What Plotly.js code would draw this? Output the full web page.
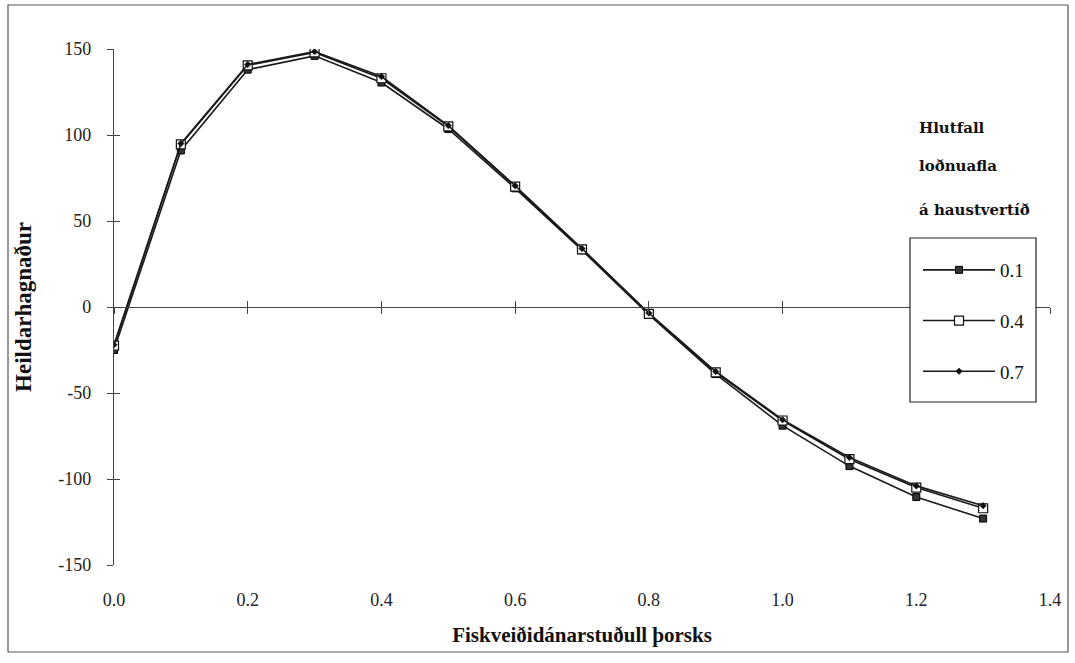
<!DOCTYPE html>
<html>
<head>
<meta charset="utf-8">
<script src="https://cdn.plot.ly/plotly-3.0.1.min.js"></script>
<style>
html,body{margin:0;padding:0;background:#fff;}
#chart{width:1075px;height:663px;}
</style>
</head>
<body>
<div id="chart"></div>
<script>
// Data
const fishingMortality = [0.0, 0.1, 0.2, 0.3, 0.4, 0.5, 0.6, 0.7, 0.8, 0.9, 1.0, 1.1, 1.2, 1.3];
const profit01 = [-25, 91, 138, 146, 130.5, 103.5, 69, 33, -4.5, -39, -69, -92.5, -110.5, -123];
const profit04 = [-22.5, 94.5, 140.5, 148, 133, 105, 70, 33.5, -4, -38, -66, -88.5, -105, -117];
const profit07 = [-22, 95, 141, 148.5, 134, 105.5, 70.5, 34, -3.5, -37.5, -65.5, -87.5, -104, -115.5];
const seriesNames = ['0.1', '0.4', '0.7'];
const xTicks = [0, 0.2, 0.4, 0.6, 0.8, 1.0, 1.2, 1.4];
const yTicks = [-150, -100, -50, 0, 50, 100, 150];
const yTickText = ['-150', '-100', '-50', '0', '50', '100', '150'];
const legendTitleLines = ['Hlutfall', 'loðnuafla', 'á haustvertíð'];

const lineStyle = {color: '#1a1a1a', width: 1.6};
const serif = 'Liberation Serif, Times New Roman, serif';

const traces = [
  {x: fishingMortality, y: profit01, name: seriesNames[0], mode: 'lines+markers', line: lineStyle,
   marker: {symbol: 'square', size: 7, color: '#333', line: {color: '#000', width: 1}}, legendgroup: 'a'},
  {x: fishingMortality, y: profit04, name: seriesNames[1], mode: 'lines+markers', line: lineStyle,
   marker: {symbol: 'square', size: 9, color: '#fff', line: {color: '#111', width: 1.2}}, legendgroup: 'b'},
  {x: fishingMortality, y: profit07, name: seriesNames[2], mode: 'lines+markers', line: lineStyle,
   marker: {symbol: 'diamond', size: 5, color: '#111', line: {color: '#000', width: 0.5}}, legendgroup: 'c'},
  // empty helper traces so the overlay axes exist
  {x: [], y: [], xaxis: 'x2', yaxis: 'y', showlegend: false, hoverinfo: 'skip'},
  {x: [], y: [], xaxis: 'x3', yaxis: 'y', showlegend: false, hoverinfo: 'skip'},
  {x: [], y: [], xaxis: 'x', yaxis: 'y2', showlegend: false, hoverinfo: 'skip'}
];

const L = 114, R = 25, T = 49, B = 98;
const W = 1075 - L - R, H = 663 - T - B;
const px = v => (v - L) / W;
const py = v => (663 - B - v) / H;

const annotations = legendTitleLines.map((t, i) => ({
  text: '<b>' + t + '</b>', xref: 'paper', yref: 'paper', x: px(917), y: py([128, 166, 210][i]),
  xanchor: 'left', yanchor: 'middle', showarrow: false,
  font: {family: 'DejaVu Serif, serif', size: 15, color: '#111'}
}));

const layout = {
  width: 1075, height: 663,
  margin: {l: L, r: R, t: T, b: B},
  paper_bgcolor: '#fff', plot_bgcolor: '#fff',
  showlegend: true,
  legend: {
    x: px(918), y: py(251), xanchor: 'left', yanchor: 'top',
    borderwidth: 0, bgcolor: 'rgba(0,0,0,0)',
    font: {family: serif, size: 19, color: '#111'},
    tracegroupgap: 23, itemwidth: 72
  },
  xaxis: {
    range: [0, 1.4], tickvals: xTicks, tickformat: '.1f', ticks: '', showline: false,
    showgrid: false, zeroline: false, ticklabelstandoff: 22,
    tickfont: {family: serif, size: 18, color: '#222'},
    title: {text: '<b>Fiskveiðidánarstuðull þorsks</b>', font: {family: serif, size: 21, color: '#111'}, standoff: 18}
  },
  xaxis2: {
    overlaying: 'x', anchor: 'free', position: 0.5, range: [0, 1.4], tickvals: xTicks,
    ticks: 'outside', ticklen: 6, tickcolor: '#444', showticklabels: false,
    showline: true, linecolor: '#444', linewidth: 1.2, showgrid: false, zeroline: false
  },
  xaxis3: {
    overlaying: 'x', anchor: 'free', position: 0.5, range: [0, 1.4], tickvals: xTicks,
    ticks: 'inside', ticklen: 6, tickcolor: '#444', showticklabels: false,
    showline: false, showgrid: false, zeroline: false
  },
  yaxis: {
    range: [-150, 150], tickvals: yTicks, ticktext: yTickText, ticks: 'outside', ticklen: 6, tickcolor: '#444',
    showline: true, linecolor: '#444', linewidth: 1.2, showgrid: false, zeroline: false,
    ticklabelstandoff: 12,
    tickfont: {family: serif, size: 18, color: '#222'},
    title: {text: '<b>Heildarhagnaður</b>', font: {family: serif, size: 23, color: '#111'}, standoff: 20}
  },
  yaxis2: {
    overlaying: 'y', anchor: 'x', side: 'left', range: [-150, 150], tickvals: yTicks,
    ticks: 'inside', ticklen: 6, tickcolor: '#444', showticklabels: false,
    showline: false, showgrid: false, zeroline: false
  },
  annotations: annotations,
  shapes: [
    {type: 'rect', xref: 'paper', yref: 'paper',
     x0: px(8), x1: px(1068), y0: py(652), y1: py(5),
     line: {color: '#555', width: 1.2}, fillcolor: 'rgba(0,0,0,0)', layer: 'below'},
    {type: 'rect', xref: 'paper', yref: 'paper',
     x0: px(910), x1: px(1036), y0: py(402), y1: py(238),
     line: {color: '#222', width: 1.2}, fillcolor: '#fff', layer: 'above'}
  ]
};

Plotly.newPlot('chart', traces, layout, {displayModeBar: false, staticPlot: true});
</script>
</body>
</html>
